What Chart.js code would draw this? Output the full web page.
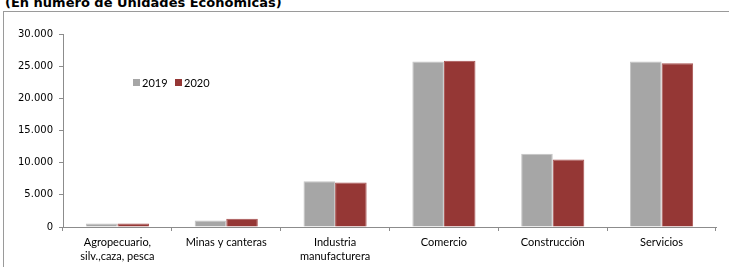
<!DOCTYPE html>
<html>
<head>
<meta charset="utf-8">
<script src="https://cdn.jsdelivr.net/npm/chart.js@4.4.0/dist/chart.umd.min.js"></script>
<style>
  html, body { margin: 0; padding: 0; background: #fff; }
  body { width: 729px; height: 267px; position: relative; overflow: hidden; }
  #title {
    position: absolute; left: 5px; top: -5px;
    font: bold 13px "DejaVu Sans", sans-serif; color: #000; white-space: nowrap;
  }
  #frame {
    position: absolute; left: 3px; top: 11px; width: 760px; height: 300px;
    border-left: 1px solid #9a9a9a; border-top: 1px solid #9a9a9a;
  }
  #out { position: absolute; left: 0; top: 0; }
</style>
</head>
<body>
<div id="title">(En número de Unidades Económicas)</div>
<div id="frame"></div>
<canvas id="out" width="729" height="267"></canvas>
<script>
const categories = [
  ["Agropecuario,", "silv.,caza, pesca"],
  "Minas y canteras",
  ["Industria", "manufacturera"],
  "Comercio",
  "Construcción",
  "Servicios"
];
const years = ["2019", "2020"];
const values2019 = [560, 1000, 7130, 25730, 11400, 25730];
const values2020 = [540, 1300, 6900, 25830, 10500, 25470];
const yTicks = [0, 5000, 10000, 15000, 20000, 25000, 30000];

// legend drawn inside the plot, like the original
const innerLegend = {
  id: "innerLegend",
  afterDraw(chart) {
    const ctx = chart.ctx;
    const spots = [133, 175];
    ctx.save();
    ctx.font = "11px Lato, sans-serif";
    ctx.textBaseline = "middle";
    chart.data.datasets.forEach((ds, i) => {
      const x = spots[i];
      ctx.fillStyle = ds.backgroundColor;
      ctx.fillRect(x, 79, 7, 7);
      ctx.fillStyle = "#000";
      ctx.fillText(ds.label, x + 9, 83);
    });
    ctx.restore();
  }
};

const canvasCtx = document.getElementById("out").getContext("2d");
new Chart(canvasCtx, {
  type: "bar",
  data: {
    labels: categories,
    datasets: [
      {
        label: years[0],
        data: values2019,
        backgroundColor: "#a6a6a6",
        borderColor: "#c4c4c4",
        borderWidth: 1
      },
      {
        label: years[1],
        data: values2020,
        backgroundColor: "#953735",
        borderColor: "#a85250",
        borderWidth: 1
      }
    ]
  },
  options: {
    responsive: false,
    animation: false,
    layout: { padding: { left: 0, top: 34, right: 13, bottom: 0 } },
    datasets: { bar: { barPercentage: 1, categoryPercentage: 0.58 } },
    plugins: {
      legend: { display: false },
      tooltip: { enabled: false },
      title: { display: false }
    },
    scales: {
      x: {
        offset: true,
        grid: { offset: true, drawOnChartArea: false, tickLength: 4, color: "#8c8c8c" },
        border: { color: "#8c8c8c" },
        ticks: {
          color: "#000",
          padding: 4,
          maxRotation: 0,
          autoSkip: false,
          font: { family: "Lato, sans-serif", size: 11, lineHeight: 1.27 }
        },
        afterFit(scale) { scale.height = 40; }
      },
      y: {
        min: 0,
        max: 30000,
        afterBuildTicks(scale) { scale.ticks = yTicks.map(v => ({ value: v })); },
        grid: { drawOnChartArea: false, tickLength: 4, color: "#8c8c8c" },
        border: { color: "#8c8c8c" },
        ticks: {
          color: "#000",
          padding: 6,
          font: { family: "DejaVu Sans, sans-serif", size: 10 },
          callback: v => v.toLocaleString("de-DE")
        },
        afterFit(scale) { scale.width = 63; }
      }
    }
  },
  plugins: [innerLegend]
});
</script>
</body>
</html>
